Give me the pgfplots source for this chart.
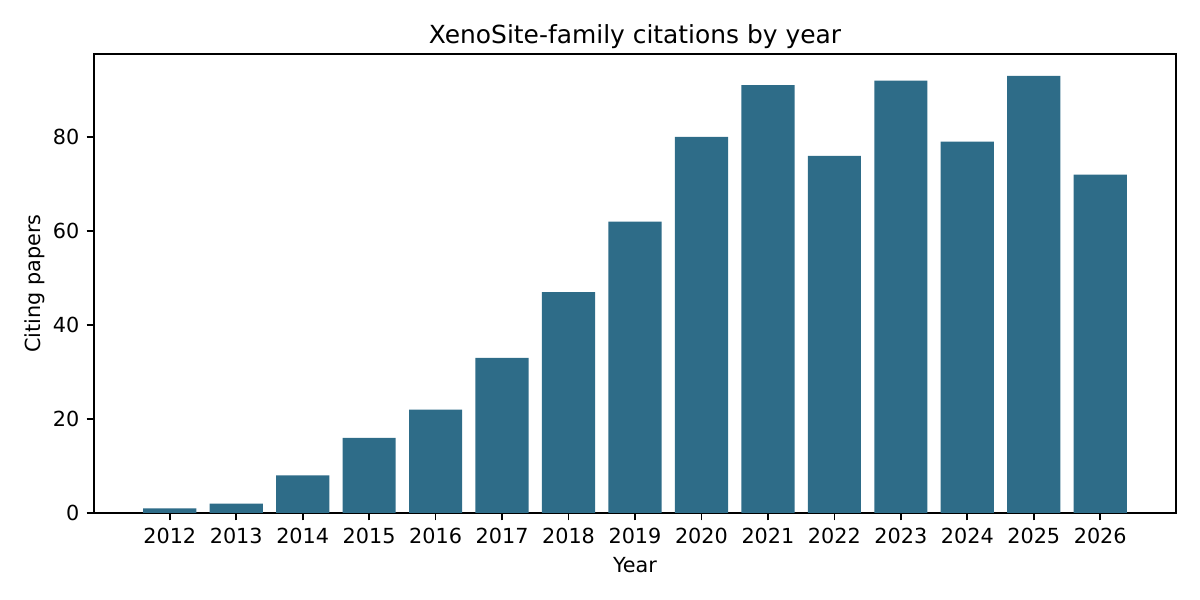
\documentclass[border=0pt]{standalone}
\usepackage{pgfplots}
\pgfplotsset{compat=1.18}
\usepackage{fontspec}
\setmainfont{DejaVu Sans}
\definecolor{barblue}{HTML}{2E6C88}

\begin{document}
\begin{tikzpicture}
\begin{axis}[
    scale only axis,
    width=519.36bp, height=220.32bp,
    title={XenoSite-family citations by year},
    title style={font=\fontsize{12}{14}\selectfont, at={(0.5,1)}, anchor=base, inner sep=0pt},
    every axis title shift=5bp,
    xlabel={Year},
    ylabel={Citing papers},
    label style={font=\fontsize{10}{12}\selectfont},
    ylabel style={yshift=-3pt},
    tick label style={font=\fontsize{10}{12}\selectfont},
    /pgf/number format/assume math mode=true,
    /pgf/number format/1000 sep={},
    xmin=2010.86, xmax=2027.14,
    ymin=0, ymax=97.65,
    xtick={2012,2013,...,2026},
    ytick={0,20,40,60,80},
    axis line style={line width=0.8bp},
    tick style={line width=0.8bp, black},
    major tick length=3.5bp,
    tick align=outside,
    xtick pos=bottom, ytick pos=left,
    ybar, bar width=0.8, bar shift=0pt,
]
\addplot[fill=barblue, draw=none] coordinates {
    (2012,1) (2013,2) (2014,8) (2015,16) (2016,22) (2017,33) (2018,47)
    (2019,62) (2020,80) (2021,91) (2022,76) (2023,92) (2024,79)
    (2025,93) (2026,72)
};
\end{axis}
\path (current axis.south west) ++(-45.12bp,-41.76bp) rectangle ++(576bp,288bp);
\end{tikzpicture}
\end{document}
